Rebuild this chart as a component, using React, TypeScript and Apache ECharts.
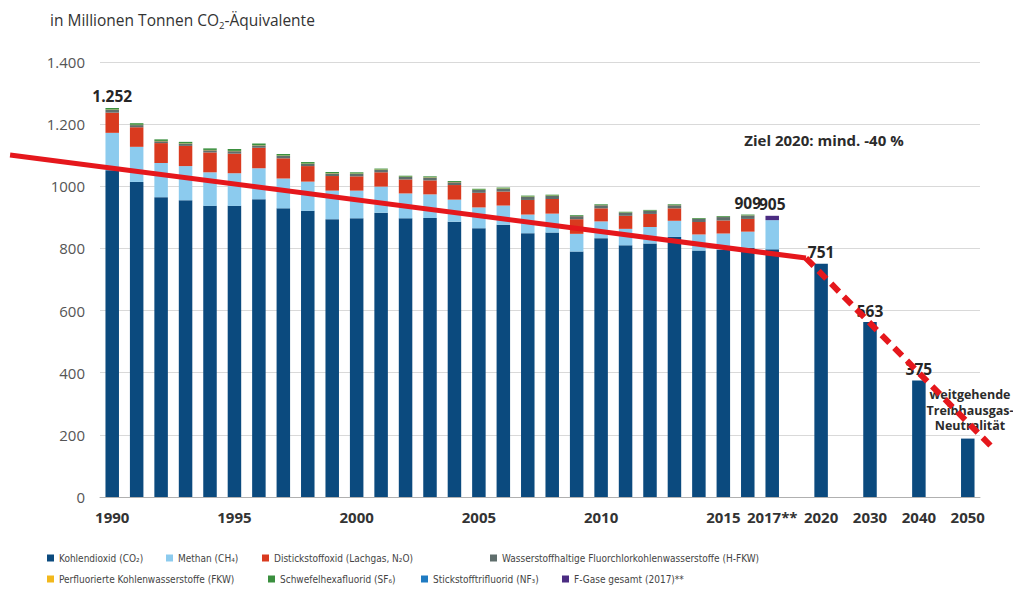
import React, { useEffect, useRef } from 'react';
import * as echarts from 'echarts';

// ---------- data ----------
const years = ['1990','1991','1992','1993','1994','1995','1996','1997','1998','1999','2000','2001','2002','2003','2004','2005','2006','2007','2008','2009','2010','2011','2012','2013','2014','2015','2016','2017'];
const co2 = [1052,1014,965,955,937,937,958,929,921,894,897,915,897,898,886,865,876,849,851,790,833,810,816,837,793,796,802,797];
const ch4 = [120,113,110,110,108,105,100,96,94,92,89,84,80,76,71,67,62,60,61,57,54,53,53,52,52,52,52,94];
const n2o = [65,63,64,65,64,63,66,65,50,47,46,46,45,45,47,47,45,47,47,47,42,42,42,40,40,42,41,0];
const hfc = [9,7,6,7,7,8,7,8,7,8,8,8,8,9,9,9,9,10,10,10,10,10,10,10,10,11,11,0];
const pfc = [1,1,1,1,1,1,1,1,1,1,1,1,1,1,1,1,1,1,1,0.5,0.5,0.5,0.5,0.5,0.5,0.5,0.5,0];
const sf6 = [5,5,5,5,5,6,6,5,5,4,4,3,3,3,3,3,3,3,3,2.5,2.5,2.5,2.5,2.5,2.5,2.5,2.5,0];
const nf3 = [0,0,0,0,0,0,0,0,0,0,0,0,0,0,0,0,0,0,0,0,0,0,0,0,0,0,0,0];
const fGesamt = [0,0,0,0,0,0,0,0,0,0,0,0,0,0,0,0,0,0,0,0,0,0,0,0,0,0,0,14];

const targetYears = ['2020','2030','2040','2050'];
const targetValues = [751,563,375,188];
const gapNames = ['gap2018','gap2025','gap2035','gap2045'];

const shownLabels = ['1990','1995','2000','2005','2010','2015','2017','2020','2030','2040','2050'];

const labelYears = ['1990','2016','2017','2020','2030','2040'];
const labelValues = [1252,909,905,751,563,375];
const labelTexts = ['1.252','909','905','751','563','375'];

// trend line: [category position, value]
const trendSolid = [[-4.18,1101],[28.38,769]];
const trendDashed = [[28.38,769],[36.11,151]];

const seriesNames = [
  'Kohlendioxid (CO₂)',
  'Methan (CH₄)',
  'Distickstoffoxid (Lachgas, N₂O)',
  'Wasserstoffhaltige Fluorchlorkohlenwasserstoffe (H-FKW)',
  'Perfluorierte Kohlenwasserstoffe (FKW)',
  'Schwefelhexafluorid (SF₆)',
  'Stickstofftrifluorid (NF₃)',
  'F-Gase gesamt (2017)**',
];
const seriesColors = ['#0b4a7e','#8ccbee','#d93a1f','#5f6e6c','#f2b81c','#3a8f3e','#1f7bc2','#4b2c82'];

// ---------- helpers ----------
const categories: string[] = [...years];
targetYears.forEach((t, i) => { categories.push(gapNames[i]); categories.push(t); });

const histData = (arr: number[]) => categories.map((c) => {
  const i = years.indexOf(c);
  return i >= 0 && arr[i] > 0 ? arr[i] : '-';
});

const FONT = "'Open Sans', 'Noto Sans', sans-serif";
const NARROW = "'Liberation Sans Narrow', 'DejaVu Sans Condensed', 'Liberation Sans', sans-serif";

export default function App() {
  const ref = useRef<HTMLDivElement>(null);
  useEffect(() => {
    document.body.style.margin = '0';
    if (!ref.current) return;
    const chart = echarts.init(ref.current, undefined, { renderer: 'svg' });

    const co2Data = categories.map((c) => {
      const i = years.indexOf(c);
      if (i >= 0) return co2[i];
      const t = targetYears.indexOf(c);
      return t >= 0 ? targetValues[t] : '-';
    });
    const stacks = [co2Data, histData(ch4), histData(n2o), histData(hfc), histData(pfc), histData(sf6), histData(nf3), histData(fGesamt)];

    const barSeries = stacks.map((d, i) => ({
      type: 'bar',
      name: seriesNames[i],
      stack: 'total',
      data: d,
      barWidth: 13.5,
      itemStyle: { color: seriesColors[i] },
      z: 2,
    }));

    const legendPos = [
      [47, 553], [166, 553], [262, 553], [490, 553],
      [47, 574], [268, 574], [421, 574], [562, 574],
    ];
    const legends = seriesNames.map((n, i) => ({
      data: [n],
      left: legendPos[i][0],
      top: legendPos[i][1],
      icon: 'rect',
      itemWidth: 7,
      itemHeight: 7,
      selectedMode: false,
      padding: 0,
      textStyle: { fontSize: 10, color: '#444', fontFamily: NARROW },
    }));

    chart.setOption({
      animation: false,
      backgroundColor: '#ffffff',
      title: {
        text: '{a|in Millionen Tonnen CO}{s|2}{a|-Äquivalente}',
        left: 45,
        top: 5,
        textStyle: {
          fontWeight: 'normal',
          rich: {
            a: { fontSize: 15.5, color: '#333', fontFamily: FONT, fontWeight: 'normal' },
            s: { fontSize: 9.5, color: '#333', fontFamily: FONT, fontWeight: 'normal', padding: [10, 0, 0, 0] },
          },
        },
      },
      legend: legends,
      grid: { left: 100, right: 33, top: 62, bottom: 94 },
      xAxis: [
        {
          type: 'category',
          data: categories,
          axisTick: { show: false },
          axisLine: { show: true, lineStyle: { color: '#b0b0b0', width: 1 } },
          axisLabel: {
            interval: (_i: number, v: string) => shownLabels.indexOf(v) >= 0,
            showMinLabel: true,
            showMaxLabel: true,
            margin: 12,
            fontSize: 15,
            fontWeight: 'bold',
            color: '#333',
            fontFamily: FONT,
            formatter: (v: string) => (v === '2017' ? '2017**' : v),
          },
        },
        { type: 'value', min: -0.5, max: 35.5, show: false },
      ],
      yAxis: {
        type: 'value',
        min: 0,
        max: 1400,
        interval: 200,
        axisLine: { show: false },
        axisTick: { show: false },
        splitLine: { lineStyle: { color: '#d9d9d9', width: 1 } },
        axisLabel: {
          margin: 15,
          fontSize: 15,
          color: '#555',
          fontFamily: FONT,
          formatter: (v: number) => v === 1400 ? '1.400' : v === 1200 ? '1.200' : String(v),
        },
      },
      series: [
        ...barSeries,
        {
          type: 'scatter',
          name: 'labels',
          data: labelYears.map((y, i) => [y, labelValues[i]]),
          symbolSize: 1,
          itemStyle: { color: 'rgba(0,0,0,0)' },
          silent: true,
          z: 4,
          label: {
            show: true,
            position: 'top',
            distance: 3,
            fontSize: 15.5,
            fontWeight: 'bold',
            color: '#262626',
            opacity: 1,
            fontFamily: FONT,
            formatter: (p: any) => labelTexts[p.dataIndex],
          },
        },
      ],
      graphic: [
        {
          type: 'text',
          x: 824,
          y: 140,
          style: {
            text: 'Ziel 2020: mind. -40 %',
            font: `bold 15px ${FONT}`,
            fill: '#2b2b2b',
            align: 'center',
            verticalAlign: 'middle',
          },
        },
        {
          type: 'text',
          x: 970,
          y: 410,
          style: {
            text: 'weitgehende\nTreibhausgas-\nNeutralität',
            font: `bold 12.5px ${FONT}`,
            lineHeight: 15.5,
            fill: '#2b2b2b',
            align: 'center',
            verticalAlign: 'middle',
          },
        },
      ],
    });

    // trend line, positioned through the chart's own axes
    const toPx = (p: number[]) => chart.convertToPixel({ xAxisIndex: 1, yAxisIndex: 0 }, p) as number[];
    chart.setOption({
      graphic: [
        {
          id: 'trendSolid',
          type: 'polyline',
          z: 100,
          silent: true,
          shape: { points: trendSolid.map(toPx) },
          style: { stroke: '#e5171c', lineWidth: 5, fill: 'none' },
        },
        {
          id: 'trendDashed',
          type: 'polyline',
          z: 100,
          silent: true,
          shape: { points: trendDashed.map(toPx) },
          style: { stroke: '#e5171c', lineWidth: 6, lineDash: [11, 7], fill: 'none' },
        },
      ],
    });

    return () => chart.dispose();
  }, []);

  return <div ref={ref} style={{ width: 1013, height: 591 }} />;
}
